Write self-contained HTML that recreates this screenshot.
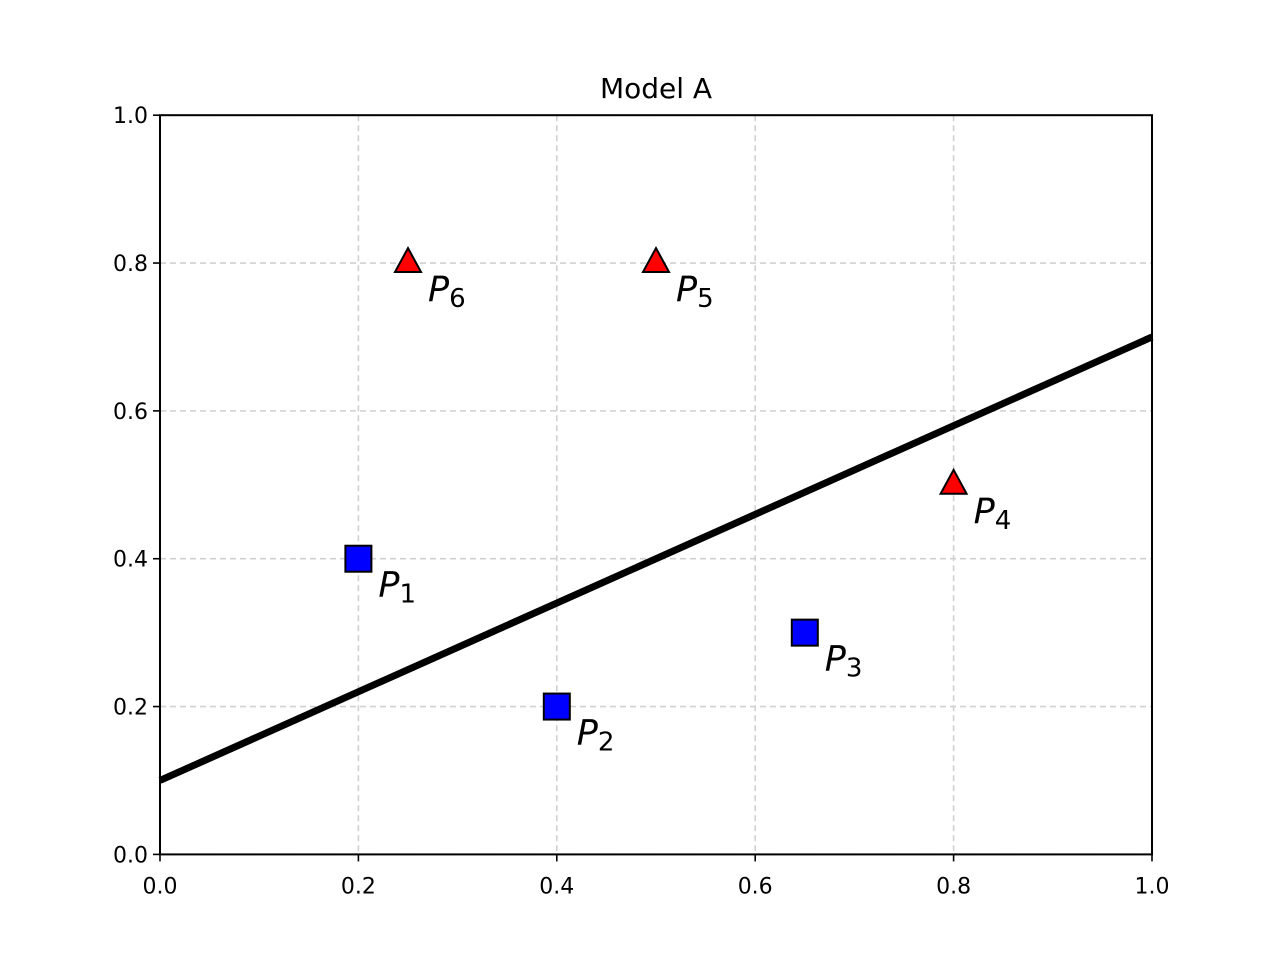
<!DOCTYPE html>
<html><head><meta charset="utf-8"><style>
body{margin:0;background:#fff}
svg text{font-family:"DejaVu Sans","Liberation Sans",sans-serif}
</style></head><body>
<svg id="chart" width="1280" height="960" xmlns="http://www.w3.org/2000/svg">
<rect width="1280" height="960" fill="#fff"/>
<text x="656" y="98" font-size="28" text-anchor="middle">Model A</text>
<g id="grid"></g><g id="ticks"></g><g id="marks"></g>
<rect x="160" y="115.2" width="992" height="739.2" fill="none" stroke="#000" stroke-width="2"/>
</svg>
<script>
const tickVals=[0,0.2,0.4,0.6,0.8,1.0];
const tickLabels=["0.0","0.2","0.4","0.6","0.8","1.0"];
const pointX=[0.2,0.4,0.65,0.8,0.5,0.25];
const pointY=[0.4,0.2,0.3,0.5,0.8,0.8];
const pointKind=["square","square","square","triangle","triangle","triangle"];
const pointLabels=["1","2","3","4","5","6"];
const lineX=[0,1];
const lineY=[0.1,0.7];
const L=160,R=1152,T=115.2,B=854.4;
const sx=v=>L+v*(R-L), sy=v=>B-v*(B-T);
const NS="http://www.w3.org/2000/svg";
function mk(tag,attrs,parent){const e=document.createElementNS(NS,tag);for(const k in attrs)e.setAttribute(k,attrs[k]);parent.appendChild(e);return e;}
const grid=document.getElementById('grid'),ticks=document.getElementById('ticks'),marks=document.getElementById('marks');
tickVals.forEach((v,i)=>{
  let g=mk('line',{x1:sx(v),x2:sx(v),y1:T,y2:B,stroke:'#d0d0d0','stroke-width':1.6,'stroke-dasharray':'6,4'},grid);
  
  
  g=mk('line',{x1:L,x2:R,y1:sy(v),y2:sy(v),stroke:'#d0d0d0','stroke-width':1.6,'stroke-dasharray':'6,4'},grid);
  
  
  let t=mk('line',{x1:sx(v),x2:sx(v),y1:B,y2:B+7,stroke:'#000','stroke-width':1.6},ticks);
  
  
  t=mk('line',{x1:L-7,x2:L,y1:sy(v),y2:sy(v),stroke:'#000','stroke-width':1.6},ticks);
  
  
  let lx=mk('text',{x:sx(v),y:B+39,'font-size':22,'text-anchor':'middle'},ticks);lx.textContent=tickLabels[i];
  
  
  let ly=mk('text',{x:L-12,y:sy(v)+8,'font-size':22,'text-anchor':'end'},ticks);ly.textContent=tickLabels[i];
  
  
});
const ln=mk('line',{x1:sx(lineX[0]),y1:sy(lineY[0]),x2:sx(lineX[1]),y2:sy(lineY[1]),stroke:'#000','stroke-width':7},marks);


pointX.forEach((x,i)=>{
  const cx=sx(x),cy=sy(pointY[i]);let m;
  if(pointKind[i]==='square'){
    m=mk('rect',{x:cx-13,y:cy-13,width:26,height:26,fill:'#0000ff',stroke:'#000','stroke-width':2},marks);
  }else{
    m=mk('polygon',{points:`${cx},${cy-15} ${cx+13},${cy+9} ${cx-13},${cy+9}`,fill:'#ff0000',stroke:'#000','stroke-width':2},marks);
  }
  
  
  const t=mk('text',{x:cx+20,y:cy+38,'font-size':35,'font-style':'italic'},marks);
  t.innerHTML='P<tspan font-size="26" font-style="normal" dy="6">'+pointLabels[i]+'</tspan>';
  
  
});
</script>
</body></html>
